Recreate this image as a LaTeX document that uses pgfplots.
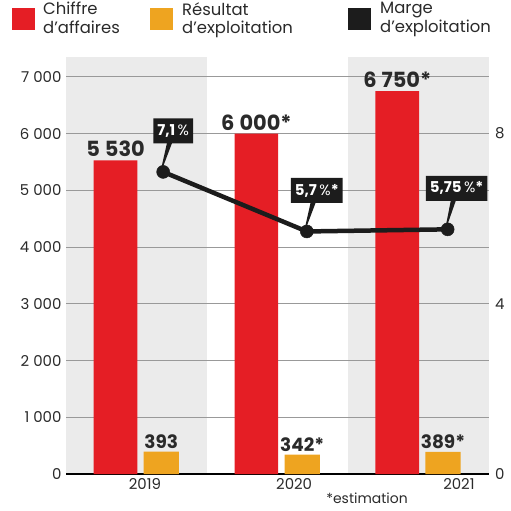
\documentclass[border=0pt]{standalone}
\usepackage{pgfplots}
\pgfplotsset{compat=1.18}
\usetikzlibrary{shapes.callouts}
\usepackage{fontspec}
\setmainfont{Poppins}
\definecolor{cred}{HTML}{E51E25}
\definecolor{corange}{HTML}{EEA420}
\definecolor{cband}{HTML}{EBEBEB}
\definecolor{cgrid}{HTML}{999999}
\definecolor{ctext}{HTML}{2A2A2A}
\definecolor{cblack}{HTML}{1C1C1C}
\pgfplotsset{
  base/.style={
    at={(66bp,37bp)}, anchor=south west,
    scale only axis, width=422.5bp, height=417bp,
    xmin=-0.5, xmax=2.5,
  }
}
\tikzset{pct/.style={rectangle callout, fill=cblack, text=white,
  font=\fontsize{15}{17}\selectfont\bfseries, inner xsep=4bp, inner ysep=3bp,
  minimum height=25bp, callout pointer width=5bp}}
\newcommand{\thsp}{\hspace{4bp}}
\newcommand{\lsp}{\hspace{5bp}}
\begin{document}
\begin{tikzpicture}
\path[use as bounding box] (0,0) rectangle (511bp,511bp);
\fill[cband] (66bp,37bp) rectangle (206.8bp,454bp);
\fill[cband] (347.7bp,37bp) rectangle (488.5bp,454bp);
\begin{axis}[base,
  ymin=0, ymax=7350,
  axis x line*=bottom, axis y line*=left,
  x axis line style={line width=2bp, draw=black, -},
  y axis line style={draw=none},
  ytick={0,1000,...,7000},
  yticklabels={0,1\thsp000,2\thsp000,3\thsp000,4\thsp000,5\thsp000,6\thsp000,7\thsp000},
  xtick={0.06,1.12,2.29},
  xticklabels={2019,2020,2021},
  major tick length=0pt,
  ymajorgrids, grid style={cgrid, line width=0.8bp},
  tick label style={font=\fontsize{15}{17}\selectfont, text=ctext},
  /pgf/number format/assume math mode=true,
  yticklabel style={xshift=-1bp},
  xticklabel style={yshift=-1bp},
  clip=false,
]
\addplot[ybar, bar width=0.31, bar shift=-0.148, fill=cred, draw=none,
  point meta=explicit symbolic, nodes near coords,
  every node near coord/.append style={font=\fontsize{21}{23}\selectfont\bfseries, text=ctext, anchor=south, inner sep=3bp, xshift=-20.8bp}]
  coordinates {(0,5530) [5\lsp530] (1,6000) [6\lsp000*] (2,6750) [6\lsp750*]};
\addplot[ybar, bar width=0.25, bar shift=0.177, fill=corange, draw=none,
  point meta=explicit symbolic, nodes near coords,
  every node near coord/.append style={font=\fontsize{18.5}{20}\selectfont\bfseries, text=ctext, anchor=south, inner sep=3bp, xshift=24.9bp}]
  coordinates {(0,393) [393] (1,342) [342*] (2,389) [389*]};
\end{axis}
\begin{axis}[base,
  ymin=0, ymax=9.8,
  axis x line=none, axis y line*=right,
  y axis line style={draw=none},
  ytick={0,4,8}, major tick length=0pt,
  tick label style={font=\fontsize{15}{17}\selectfont, text=ctext},
  yticklabel style={xshift=3bp},
  /pgf/number format/assume math mode=true,
  clip=false,
]
\addplot[cblack, line width=4.5bp, mark=*, mark size=6.5bp, mark options={line width=0.5bp}]
  coordinates {(0.19,7.1) (1.21,5.7) (2.21,5.75)};
\node[pct, callout relative pointer={(-10bp,-33bp)}] at ([shift={(10bp,41bp)}]axis cs:0.19,7.1) {7,1\,{\mdseries\%}};
\node[pct, callout relative pointer={(-10bp,-33bp)}] at ([shift={(10bp,41bp)}]axis cs:1.21,5.7) {5,7\,{\mdseries\%}*};
\node[pct, callout relative pointer={(-9bp,-33bp)}] at ([shift={(9bp,41bp)}]axis cs:2.21,5.75) {5,75\,{\mdseries\%}*};
\end{axis}
% legend
\fill[cred] (12bp,481bp) rectangle (35bp,503bp);
\fill[corange] (150bp,481bp) rectangle (173bp,503bp);
\fill[cblack] (348bp,481bp) rectangle (371bp,503bp);
\node[anchor=north west, align=left, inner sep=0pt, text=ctext, font=\fontsize{16.5}{19}\selectfont] at (43bp,509bp) {Chiffre\\d’affaires};
\node[anchor=north west, align=left, inner sep=0pt, text=ctext, font=\fontsize{16.5}{19}\selectfont] at (182bp,509bp) {Résultat\\d’exploitation};
\node[anchor=north west, align=left, inner sep=0pt, text=ctext, font=\fontsize{16.5}{19}\selectfont] at (380bp,509bp) {Marge\\d’exploitation};
\node[inner sep=0pt, text=ctext, font=\fontsize{14}{16}\selectfont] at (367bp,13bp) {*estimation};
\end{tikzpicture}
\end{document}
